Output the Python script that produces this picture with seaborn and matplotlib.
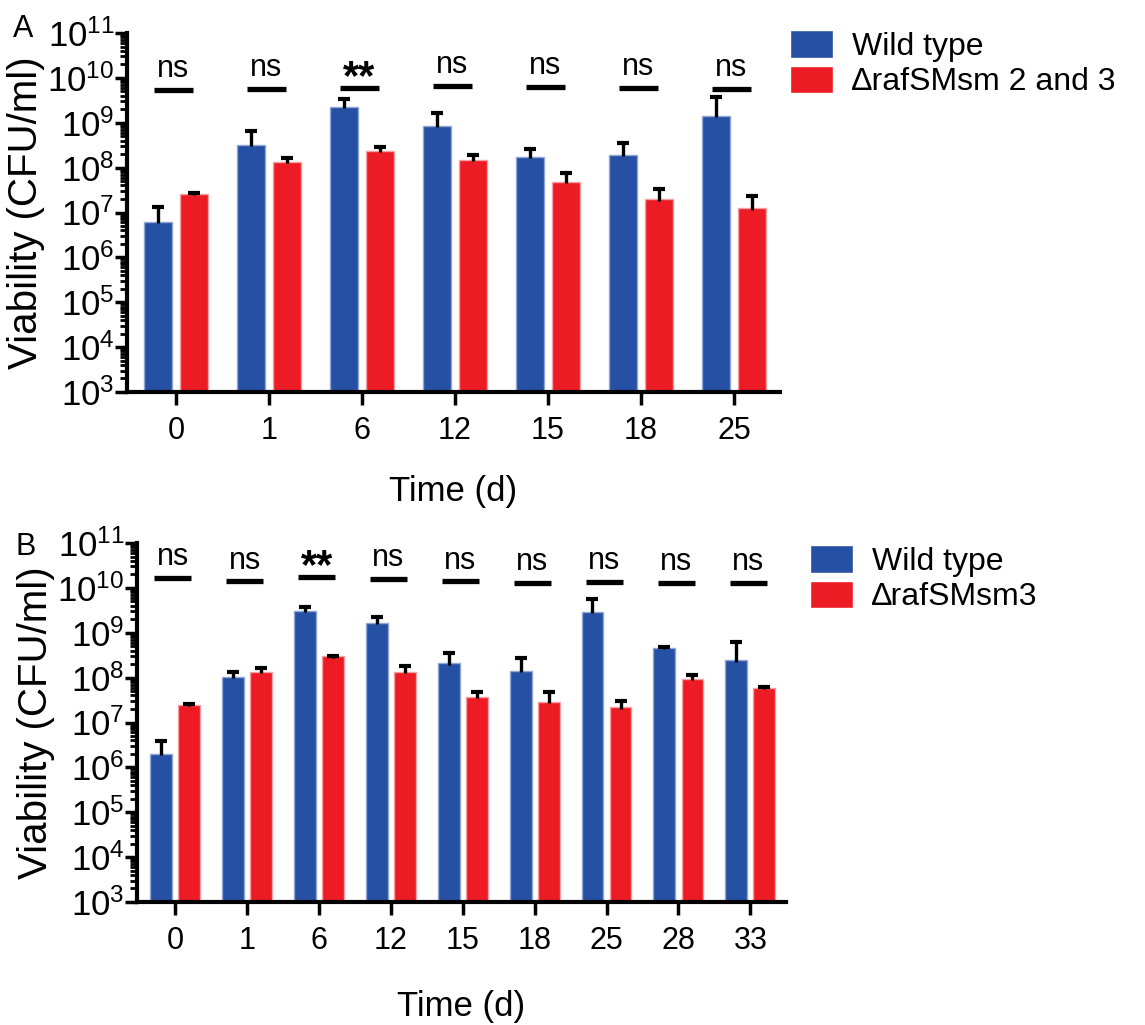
import numpy as np
import pandas as pd
import matplotlib
matplotlib.use("Agg")
import matplotlib.pyplot as plt
import seaborn as sns

# ---------------- data ----------------
strains_a = ["Wild type", "\u2206rafSMsm 2 and 3"]
days_a = ["0", "1", "6", "12", "15", "18", "25"]
wt_a = [6.3e6, 3.2e8, 2.3e9, 8.5e8, 1.75e8, 1.95e8, 1.45e9]
wt_a_top = [1.35e7, 6.6e8, 3.4e9, 1.66e9, 2.6e8, 3.6e8, 3.8e9]
mut_a = [2.6e7, 1.35e8, 2.4e8, 1.5e8, 4.9e7, 1.95e7, 1.23e7]
mut_a_top = [2.75e7, 1.67e8, 2.9e8, 1.9e8, 7.4e7, 3.4e7, 2.3e7]
sig_a = ["ns", "ns", "**", "ns", "ns", "ns", "ns"]
sig_a_y = [5.4e9, 5.7e9, 6.0e9, 6.6e9, 6.3e9, 6.0e9, 5.7e9]

strains_b = ["Wild type", "\u2206rafSMsm3"]
days_b = ["0", "1", "6", "12", "15", "18", "25", "28", "33"]
wt_b = [2.0e6, 1.05e8, 3.1e9, 1.66e9, 2.1e8, 1.4e8, 2.9e9, 4.6e8, 2.45e8]
wt_b_top = [3.9e6, 1.35e8, 3.7e9, 2.2e9, 3.5e8, 2.75e8, 5.6e9, 4.9e8, 6.3e8]
mut_b = [2.45e7, 1.35e8, 3.0e8, 1.35e8, 3.7e7, 2.9e7, 2.2e7, 9.3e7, 5.9e7]
mut_b_top = [2.55e7, 1.65e8, 3.1e8, 1.8e8, 4.8e7, 4.8e7, 3.0e7, 1.15e8, 6.1e7]
sig_b = ["ns", "ns", "**", "ns", "ns", "ns", "ns", "ns", "ns"]
sig_b_y = [1.66e10, 1.42e10, 1.75e10, 1.58e10, 1.42e10, 1.29e10, 1.36e10, 1.29e10, 1.29e10]

yticks = [1e3, 1e4, 1e5, 1e6, 1e7, 1e8, 1e9, 1e10, 1e11]
ytick_labels = [r"$\mathregular{10^{%d}}$" % e for e in range(3, 12)]

BLUE = "#2650A4"
RED = "#ED1C24"

sns.set_style("ticks")
plt.rcParams["font.family"] = ["Liberation Sans", "DejaVu Sans"]
plt.rcParams["mathtext.fontset"] = "custom"
plt.rcParams["mathtext.rm"] = "Liberation Sans"
plt.rcParams["mathtext.it"] = "Liberation Sans:italic"
plt.rcParams["mathtext.bf"] = "Liberation Sans:bold"
for key in ["text.color", "axes.labelcolor", "xtick.color", "ytick.color"]:
    plt.rcParams[key] = "black"

fig = plt.figure(figsize=(11.45, 10.25), dpi=100)
W, H = 1145.0, 1025.0


def panel(ax, days, strains, wt, wt_top, mut, mut_top, sig, sig_y, half_w,
          legend_xy, letter, letter_xy, xlabelpad):
    df = pd.DataFrame({
        "Time": days * 2,
        "Strain": [strains[0]] * len(days) + [strains[1]] * len(days),
        "CFU": list(wt) + list(mut),
    })
    tops = list(wt_top) + list(mut_top)
    sns.barplot(data=df, x="Time", y="CFU", hue="Strain", order=days,
                hue_order=strains, palette=[BLUE, RED], width=0.78, gap=0.22,
                errorbar=None, log_scale=True, ax=ax, saturation=1,
                linewidth=1.0)
    bar_conts = list(ax.containers)
    for cont, ec in zip(bar_conts, ["#8fa6d6", "#f7a0a3"]):
        for bar in cont:
            bar.set_edgecolor(ec)
            bar.set_linewidth(1.0)
    # error bars (upper only) at bar centres
    k = 0
    for cont in bar_conts:
        for bar in cont:
            xc = bar.get_x() + bar.get_width() / 2
            h = bar.get_height()
            ax.vlines(xc, h * 0.93, tops[k], color="black", lw=2.4, zorder=3)
            ax.plot([xc], [tops[k]], marker="_", ms=8, mew=3.0,
                    color="black", zorder=3)
            k += 1
    ax.set_yscale("log")
    ax.set_ylim(1e3, 1e11)
    ax.set_xlim(-0.527, len(days) - 0.505)
    ax.set_yticks(yticks)
    ax.set_yticklabels(ytick_labels)
    ax.yaxis.set_minor_locator(matplotlib.ticker.LogLocator(base=10, subs=np.arange(2, 10), numticks=20))
    ax.yaxis.set_minor_formatter(matplotlib.ticker.NullFormatter())
    ax.tick_params(axis="y", which="major", length=9, width=2.5,
                   labelsize=25, pad=0, direction="out", color="black")
    ax.tick_params(axis="y", which="minor", length=5, width=2.0,
                   direction="out", color="black")
    ax.tick_params(axis="x", which="major", length=9, width=2.5,
                   labelsize=22, pad=8, direction="out", color="black")
    for s in ["top", "right"]:
        ax.spines[s].set_visible(False)
    for s in ["left", "bottom"]:
        ax.spines[s].set_linewidth(3)
        ax.spines[s].set_color("black")
    ax.set_xlabel("Time (d)", fontsize=25, labelpad=xlabelpad)
    ax.set_ylabel("Viability (CFU/ml)", fontsize=29, labelpad=2)
    # significance annotations
    for i, (lab, yy) in enumerate(zip(sig, sig_y)):
        ax.hlines(yy, i - half_w - 0.03, i + half_w - 0.03, color="black",
                  lw=3.8, zorder=4)
        if lab == "**":
            ax.annotate(lab, (i - 0.03, yy), xytext=(0, -1),
                        textcoords="offset points", ha="center",
                        va="baseline", fontsize=30, fontweight="bold")
        else:
            ax.annotate(lab, (i - 0.03, yy), xytext=(0, 9),
                        textcoords="offset points", ha="center", va="baseline",
                        fontsize=22)
    sns.move_legend(ax, "upper left", bbox_to_anchor=legend_xy,
                    bbox_transform=fig.transFigure, frameon=False, title=None,
                    fontsize=23, handlelength=1.35, handleheight=0.95,
                    handletextpad=0.6, borderaxespad=0, borderpad=0,
                    labelspacing=0.12)
    fig.text(letter_xy[0], letter_xy[1], letter, fontsize=22, va="baseline",
             ha="left")


axA = fig.add_axes([127 / W, 1 - 392 / H, (780 - 127) / W, (392 - 33) / H])
axB = fig.add_axes([137 / W, 1 - 902 / H, (786 - 137) / W, (902 - 543) / H])

panel(axA, days_a, strains_a, wt_a, wt_a_top, mut_a, mut_a_top, sig_a,
      sig_a_y, 0.21, (790 / W, 1 - 30 / H), "A", (13 / W, 1 - 37 / H), 21)
panel(axB, days_b, strains_b, wt_b, wt_b_top, mut_b, mut_b_top, sig_b,
      sig_b_y, 0.26, (810 / W, 1 - 545 / H), "B", (16 / W, 1 - 555 / H), 25)

fig.savefig("out.png", dpi=100, facecolor="white")
